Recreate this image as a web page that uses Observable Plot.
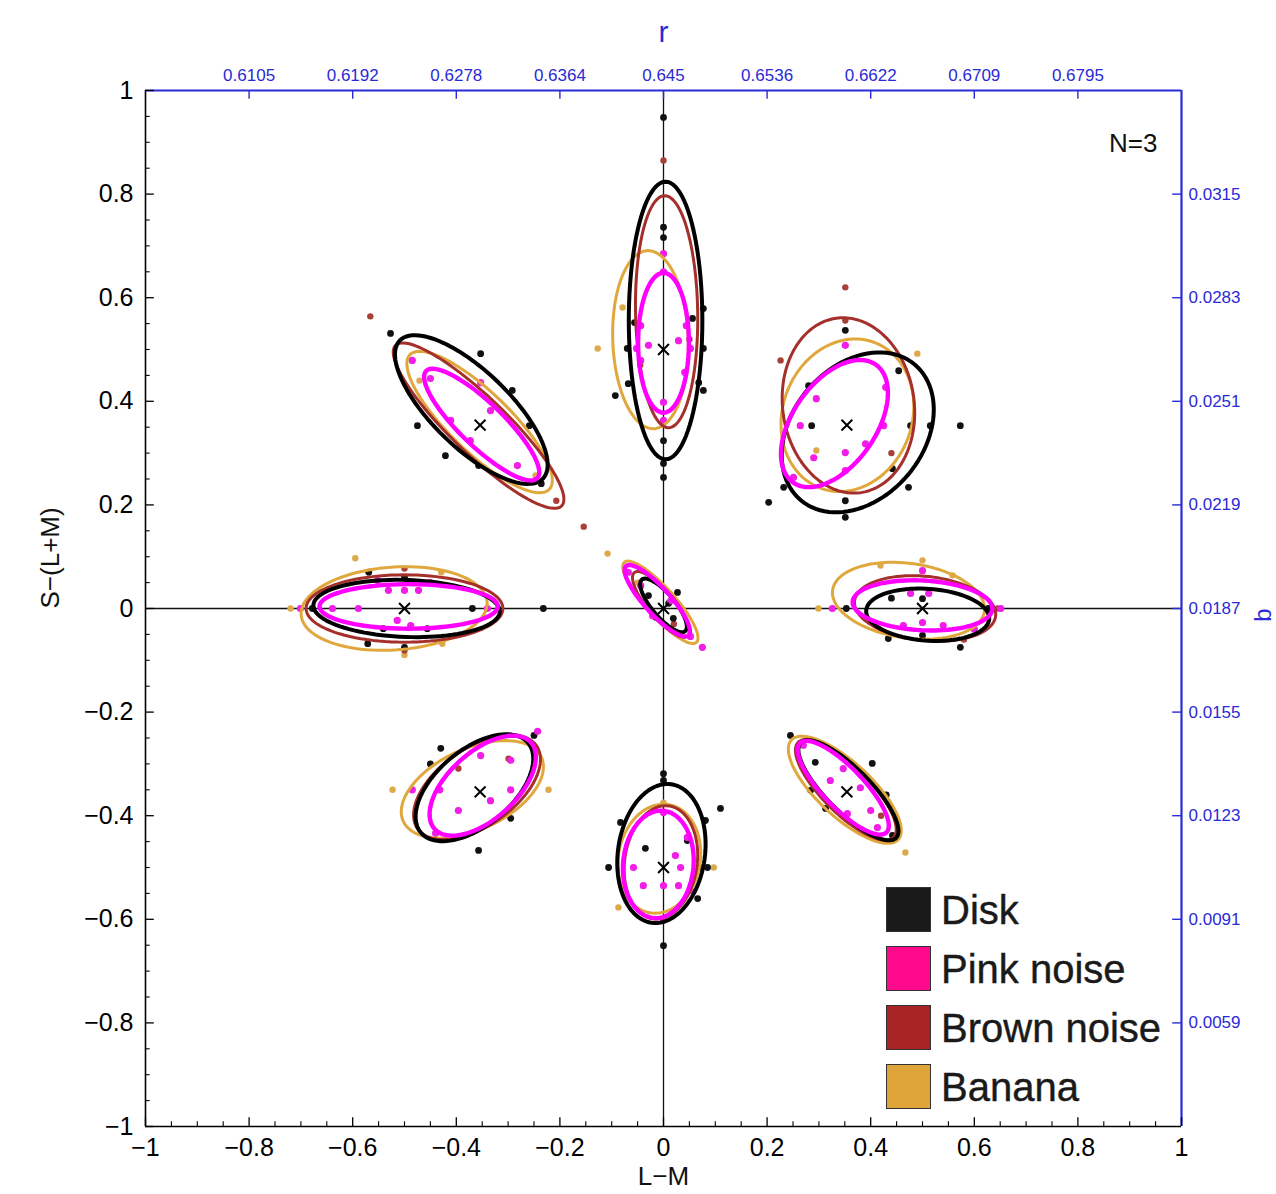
<!DOCTYPE html>
<html>
<head>
<meta charset="utf-8">
<script src="https://cdn.jsdelivr.net/npm/d3@7"></script>
<script src="https://cdn.jsdelivr.net/npm/@observablehq/plot@0.6"></script>
<style>
  html, body { margin: 0; padding: 0; background: #fff; }
  #wrap { position: relative; width: 1276px; height: 1194px; overflow: hidden; }
  #legend { position: absolute; left: 886px; top: 886px; font-family: "Liberation Sans", Arial, sans-serif; }
  .row { display: flex; align-items: center; height: 47px; margin-bottom: 12px; }
  .sw { width: 45px; height: 45px; border: 1px solid #333; box-sizing: border-box; margin-right: 10px; }
  .lab { font-size: 40px; color: #1a1a1a; line-height: 1; -webkit-text-stroke: 0.4px #1a1a1a; }
</style>
</head>
<body>
<div id="wrap"><div id="legend"></div></div>
<script>
// ---------- data ----------
const conditions = ["Disk", "Pink noise", "Brown noise", "Banana"];
const condColors = ["#000000", "#ff00ff", "#a52f2a", "#e0a83c"];
const legendColors = ["#1a1a1a", "#ff0a8c", "#a82424", "#e0a53a"];

const xTicks = [-1, -0.8, -0.6, -0.4, -0.2, 0, 0.2, 0.4, 0.6, 0.8, 1];
const yTicks = [-1, -0.8, -0.6, -0.4, -0.2, 0, 0.2, 0.4, 0.6, 0.8, 1];
const innerTicks = [-0.8, -0.6, -0.4, -0.2, 0, 0.2, 0.4, 0.6, 0.8];
const rLabels = ["0.6105", "0.6192", "0.6278", "0.6364", "0.645", "0.6536", "0.6622", "0.6709", "0.6795"];
const bLabels = ["0.0059", "0.0091", "0.0123", "0.0155", "0.0187", "0.0219", "0.0251", "0.0283", "0.0315"];

// nominal stimulus centres (L-M, S-(L+M))
const centerX = [0, 0.354, 0.5, 0.354, 0, -0.354, -0.5, -0.354, 0];
const centerY = [0.5, 0.354, 0, -0.354, -0.5, -0.354, 0, 0.354, 0];

// ellipses: [cx, cy, semi-axis a, semi-axis b, angle of a (deg)]
const diskEllipses = [
  [0.004, 0.556, 0.268, 0.071, 90], [0.375, 0.340, 0.171, 0.127, 50], [0.51, -0.012, 0.119, 0.05, -4],
  [0.357, -0.351, 0.13, 0.042, -45], [-0.004, -0.473, 0.135, 0.084, 82], [-0.365, -0.346, 0.135, 0.073, 40],
  [-0.496, 0, 0.18, 0.055, -2], [-0.371, 0.384, 0.192, 0.074, -44], [0, 0.006, 0.065, 0.022, -50]
];
const pinkEllipses = [
  [0, 0.513, 0.135, 0.049, 90], [0.33, 0.357, 0.139, 0.08, 55], [0.5, 0.006, 0.135, 0.048, -3],
  [0.347, -0.346, 0.12, 0.039, -46], [-0.01, -0.494, 0.104, 0.068, 85], [-0.349, -0.342, 0.125, 0.065, 42],
  [-0.492, 0.004, 0.172, 0.043, 0], [-0.351, 0.355, 0.149, 0.042, -44], [-0.012, 0.015, 0.09, 0.025, -48]
];
const brownEllipses = [
  [0.006, 0.573, 0.224, 0.06, 91], [0.357, 0.392, 0.17, 0.127, 98], [0.505, 0, 0.137, 0.062, -6],
  [0.352, -0.35, 0.13, 0.045, -45], [-0.005, -0.49, 0.11, 0.07, 82], [-0.36, -0.345, 0.14, 0.075, 35],
  [-0.5, 0, 0.19, 0.065, 0], [-0.357, 0.353, 0.223, 0.054, -44], [-0.005, 0.008, 0.08, 0.025, -50]
];
const bananaEllipses = [
  [-0.025, 0.519, 0.172, 0.073, 92], [0.355, 0.373, 0.15, 0.125, 70], [0.473, 0.015, 0.148, 0.072, -8],
  [0.35, -0.35, 0.141, 0.052, -43], [-0.008, -0.483, 0.106, 0.079, 80], [-0.369, -0.349, 0.147, 0.078, 25],
  [-0.52, 0, 0.18, 0.08, 4], [-0.355, 0.36, 0.187, 0.058, -44], [-0.006, 0.012, 0.104, 0.028, -48]
];

// individual settings [L-M, S-(L+M)]
const diskPoints = [
  [0,0.948],[0,0.736],[0,0.716],[0.077,0.579],[0.056,0.56],[-0.056,0.552],[-0.07,0.502],[0.077,0.502],[-0.068,0.434],[-0.093,0.411],[0.077,0.421],[0.068,0.436],[0,0.324],[0,0.28],[0,0.253],
  [0.351,0.537],[0.573,0.353],[0.515,0.353],[0.477,0.353],[0.473,0.234],[0.203,0.205],[0.232,0.234],[0.351,0.208],[0.351,0.176],[0.454,0.459],[0.442,0.27],[0.28,0.43],[0.286,0.353],
  [0.353,0],[0.627,0],[0.434,-0.058],[0.573,-0.075],[0.5,0.019],[0.5,-0.052],[0.44,0.02],
  [0.245,-0.245],[0.293,-0.297],[0.403,-0.299],[0.284,-0.351],[0.313,-0.386],[0.442,-0.438],[0.43,-0.36],
  [0,-0.319],[0,-0.332],[0.11,-0.386],[-0.083,-0.413],[-0.106,-0.5],[-0.035,-0.463],[0.085,-0.5],[0.066,-0.56],[0,-0.651],[0.046,-0.448],[0.081,-0.409],
  [-0.43,-0.27],[-0.295,-0.405],[-0.357,-0.467],[-0.25,-0.245],[-0.45,-0.3],
  [-0.232,0],[-0.569,0.07],[-0.5,0.06],[-0.678,0],[-0.369,0],[-0.541,-0.039],[-0.456,-0.039],[-0.571,-0.068],[-0.5,-0.075],
  [-0.527,0.531],[-0.353,0.492],[-0.292,0.421],[-0.475,0.353],[-0.421,0.295],[-0.259,0.353],[-0.357,0.276],[-0.236,0.241],
  [0.027,0.031],[-0.029,0.025],[0.019,-0.019],[-0.015,-0.017],[0.01,0.01]
];
const pinkPoints = [
  [0,0.685],[0,0.65],[-0.044,0.546],[0.044,0.546],[-0.052,0.502],[0.052,0.502],[-0.044,0.479],[0.041,0.456],[0,0.398],[0,0.363],[-0.029,0.508],[0.029,0.517],
  [0.351,0.508],[0.429,0.427],[0.295,0.405],[0.264,0.353],[0.425,0.353],[0.39,0.318],[0.351,0.301],[0.351,0.266],[0.29,0.291],[0.251,0.253],
  [0.326,0],[0.651,0],[0.5,0.073],[0.477,0.029],[0.512,0.029],[0.463,-0.033],[0.5,-0.027],[0.54,-0.033],[0.6,-0.04],
  [0.27,-0.264],[0.347,-0.309],[0.38,-0.346],[0.4,-0.39],[0.355,-0.396],[0.413,-0.423],[0.322,-0.332],
  [0,-0.394],[0,-0.602],[-0.058,-0.5],[0.023,-0.477],[0.033,-0.5],[-0.039,-0.535],[0,-0.535],[0.029,-0.535],[0.052,-0.544],[0.046,-0.442],
  [-0.353,-0.284],[-0.295,-0.293],[-0.432,-0.35],[-0.295,-0.35],[-0.396,-0.39],[-0.334,-0.371],[-0.485,-0.35],[-0.44,-0.434],[-0.243,-0.237],
  [-0.701,0],[-0.639,0],[-0.589,0],[-0.34,0],[-0.552,0.054],[-0.531,0.035],[-0.5,0.035],[-0.473,0.035],[-0.45,0.05],[-0.514,-0.023],[-0.488,-0.033],
  [-0.485,0.479],[-0.45,0.444],[-0.353,0.436],[-0.334,0.382],[-0.373,0.324],[-0.282,0.276],[-0.247,0.247],[-0.411,0.363],
  [-0.068,0.07],[-0.044,0.044],[0.052,-0.054],[0.014,0.015],[-0.021,-0.014],[0.075,-0.075]
];
const brownPoints = [
  [0,0.865],[0.05,0.52],[-0.045,0.47],
  [0.351,0.62],[0.226,0.479],[0.351,0.556],[0.44,0.3],
  [0.645,0],[0.58,-0.06],
  [0.42,-0.4],
  [0.07,-0.5],[0.08,-0.41],
  [-0.396,-0.309],[-0.299,-0.29],
  [-0.5,0.077],[-0.5,-0.081],
  [-0.566,0.564],[-0.207,0.208],[-0.154,0.158],
  [0.02,-0.03]
];
const bananaPoints = [
  [-0.127,0.502],[-0.079,0.581],[0,0.685],
  [0.49,0.492],[0.295,0.305],
  [0.299,0],[0.419,0.083],[0.5,0.093],[0.558,0.064],
  [0.467,-0.471],
  [0.097,-0.5],[-0.087,-0.577],[0,-0.375],
  [-0.523,-0.35],[-0.222,-0.35],
  [-0.595,0.097],[-0.429,0.07],[-0.72,0],[-0.427,-0.068],[-0.5,-0.09],
  [-0.247,0.257],[-0.471,0.44],
  [-0.108,0.106],[-0.05,0.05]
];

// ---------- build ----------
const ellipseSets = [diskEllipses, pinkEllipses, brownEllipses, bananaEllipses];
const pointSets = [diskPoints, pinkPoints, brownPoints, bananaPoints];
function outline(e, id) {
  const [cx, cy, a, b, ang] = e;
  const th = ang * Math.PI / 180;
  return d3.range(97).map(i => {
    const t = i / 96 * 2 * Math.PI;
    return { id,
      x: cx + a * Math.cos(t) * Math.cos(th) - b * Math.sin(t) * Math.sin(th),
      y: cy + a * Math.cos(t) * Math.sin(th) + b * Math.sin(t) * Math.cos(th) };
  });
}
const ellRows = ellipseSets.map((set, c) => set.flatMap((e, k) => outline(e, c + "-" + k)));
const ptRows = pointSets.map(set => set.map(([x, y]) => ({x, y})));
const centers = centerX.map((x, i) => ({x, y: centerY[i]}));

const fmt = d => d === 0 ? "0" : d3.format("~g")(d);
const blue = "#2a2ad6";
const minor = d3.range(-1, 1.0001, 0.05).map(v => Math.round(v * 100) / 100).filter(v => !xTicks.some(t => Math.abs(t - v) < 1e-9));
const tk = 0.017, tkm = 0.009;
const ptColors = ["#111111", "#f01ee6", "#a8403a", "#dcaa4a"];
const ptRadius = [3.4, 3.6, 3.2, 3.2];
const lineWidths = [4, 4.4, 3, 3];

const drawOrder = [3, 2, 0, 1];

const chart = Plot.plot({
  width: 1276, height: 1194,
  marginLeft: 145, marginRight: 95, marginTop: 90, marginBottom: 68,
  x: {domain: [-1, 1]}, y: {domain: [-1, 1]},
  style: {fontFamily: "'Liberation Sans', Arial, sans-serif", background: "white", overflow: "hidden"},
  marks: [
    // crosshair
    Plot.ruleX([0], {stroke: "#111", strokeWidth: 1.3}),
    Plot.ruleY([0], {stroke: "#111", strokeWidth: 1.3}),
    // points
    ...drawOrder.map(c => Plot.dot(ptRows[c], {x: "x", y: "y", r: ptRadius[c], fill: ptColors[c], stroke: "none"})),
    // ellipses
    ...drawOrder.map(c => Plot.line(ellRows[c], {x: "x", y: "y", z: "id", stroke: condColors[c], strokeWidth: lineWidths[c], curve: "linear"})),
    // nominal centres
    Plot.dot(centers, {x: "x", y: "y", symbol: "times", r: 5, stroke: "#000", strokeWidth: 2}),
    // frame
    Plot.ruleX([-1], {stroke: "#000", strokeWidth: 1.6}),
    Plot.ruleY([-1], {stroke: "#000", strokeWidth: 1.6}),
    Plot.ruleY([1], {stroke: blue, strokeWidth: 2.2}),
    Plot.ruleX([1], {stroke: blue, strokeWidth: 2.2}),
    // inward ticks, bottom & left
    Plot.ruleX(xTicks, {x: d => d, y1: -1, y2: -1 + tk, stroke: "#000", strokeWidth: 1.3}),
    Plot.ruleX(minor, {x: d => d, y1: -1, y2: -1 + tkm, stroke: "#000", strokeWidth: 1.1}),
    Plot.ruleY(yTicks, {y: d => d, x1: -1, x2: -1 + tk, stroke: "#000", strokeWidth: 1.3}),
    Plot.ruleY(minor, {y: d => d, x1: -1, x2: -1 + tkm, stroke: "#000", strokeWidth: 1.1}),
    // inward ticks, top & right (blue)
    Plot.ruleX(innerTicks, {x: d => d, y1: 1, y2: 1 - tk, stroke: blue, strokeWidth: 1.4}),
    Plot.ruleY(innerTicks, {y: d => d, x1: 1, x2: 1 - tk, stroke: blue, strokeWidth: 1.4}),
    // tick labels
    Plot.axisX({anchor: "bottom", ticks: xTicks, tickSize: 0, tickPadding: 12, fontSize: 25, tickFormat: fmt, label: null}),
    Plot.axisY({anchor: "left", ticks: yTicks, tickSize: 0, tickPadding: 12, fontSize: 25, tickFormat: fmt, label: null}),
    Plot.axisX({anchor: "top", ticks: innerTicks, tickSize: 0, tickPadding: 10, fontSize: 17, color: blue,
      tickFormat: d => rLabels[innerTicks.indexOf(d)], label: null}),
    Plot.axisY({anchor: "right", ticks: innerTicks, tickSize: 0, tickPadding: 7, fontSize: 17, color: blue,
      tickFormat: d => bLabels[innerTicks.indexOf(d)], label: null}),
    // axis titles
    Plot.text(["S−(L+M)"], {frameAnchor: "left", dx: -95, rotate: -90, fontSize: 26, fill: "#111"}),
    Plot.text(["L−M"], {frameAnchor: "bottom", dy: 58, fontSize: 26, fill: "#111"}),
    Plot.text(["r"], {frameAnchor: "top", dy: -70, fontSize: 30, fill: blue}),
    Plot.text(["b"], {frameAnchor: "right", dx: 82, rotate: -90, fontSize: 24, fill: blue}),
    Plot.text(["N=3"], {frameAnchor: "top-right", dx: -24, dy: 43, fontSize: 26, fill: "#111", textAnchor: "end"})
  ]
});
const wrap = document.getElementById("wrap");
wrap.insertBefore(chart, wrap.firstChild);

const legend = document.getElementById("legend");
conditions.forEach((name, i) => {
  const row = document.createElement("div");
  row.className = "row";
  row.innerHTML = `<div class="sw" style="background:${legendColors[i]}"></div><div class="lab">${name}</div>`;
  legend.appendChild(row);
});
</script>
</body>
</html>
